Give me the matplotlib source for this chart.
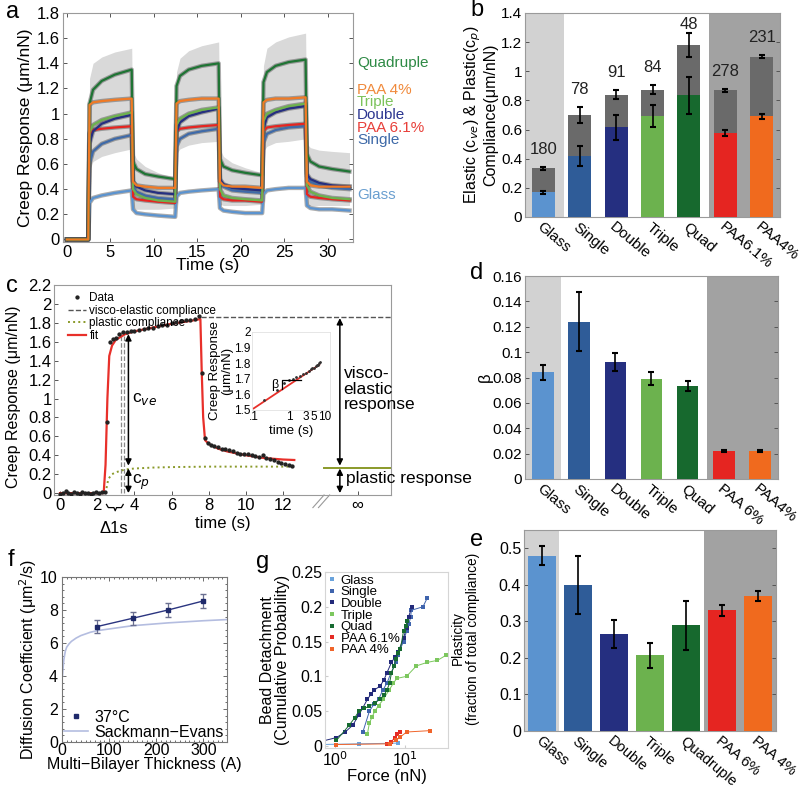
import matplotlib
matplotlib.use("Agg")
import matplotlib.pyplot as plt
import matplotlib.transforms as mtransforms
from matplotlib.ticker import FormatStrFormatter, AutoMinorLocator

plt.rcParams['font.family'] = ['Liberation Sans', 'DejaVu Sans']
plt.rcParams['mathtext.fontset'] = 'dejavusans'

# ---------------- data ----------------
colors = {
    "Glass": "#5b93cf", "Single": "#2f5c98", "Double": "#252f80",
    "Triple": "#6cb24e", "Quad": "#17692e", "PAA6": "#e52521", "PAA4": "#f06a1e",
}
bar_keys = ["Glass", "Single", "Double", "Triple", "Quad", "PAA6", "PAA4"]

# panel a: creep response, three load / unload cycles
a_time = [0, 2.45, 2.6, 3.0, 4.0, 5.5, 7.45, 7.6, 8.0, 9.0, 10.5, 12.45,
          12.6, 13.0, 14.0, 15.5, 17.45, 17.6, 18.0, 19.0, 20.5, 22.45,
          22.6, 23.0, 24.0, 25.5, 27.45, 27.6, 28.0, 29.0, 30.5, 32.5]
a_glass = [0, 0, 0.29, 0.33, 0.35, 0.37, 0.39, 0.24, 0.21, 0.20, 0.19, 0.18,
           0.34, 0.37, 0.38, 0.39, 0.40, 0.25, 0.23, 0.22, 0.21, 0.21,
           0.36, 0.39, 0.40, 0.41, 0.41, 0.27, 0.25, 0.24, 0.24, 0.23]
a_single = [0, 0, 0.60, 0.70, 0.76, 0.80, 0.83, 0.42, 0.38, 0.35, 0.33, 0.32,
            0.74, 0.80, 0.84, 0.86, 0.88, 0.46, 0.42, 0.39, 0.38, 0.37,
            0.77, 0.84, 0.87, 0.89, 0.90, 0.50, 0.46, 0.43, 0.41, 0.40]
a_paa6 = [0, 0, 0.84, 0.87, 0.88, 0.89, 0.90, 0.34, 0.32, 0.31, 0.30, 0.29,
          0.86, 0.88, 0.89, 0.90, 0.91, 0.34, 0.32, 0.31, 0.31, 0.30,
          0.86, 0.89, 0.90, 0.91, 0.92, 0.36, 0.34, 0.33, 0.32, 0.31]
a_double = [0, 0, 0.76, 0.86, 0.92, 0.96, 0.99, 0.46, 0.42, 0.39, 0.37, 0.36,
            0.85, 0.93, 0.98, 1.01, 1.04, 0.48, 0.44, 0.41, 0.40, 0.39,
            0.88, 0.97, 1.01, 1.04, 1.06, 0.52, 0.48, 0.45, 0.43, 0.42]
a_triple = [0, 0, 0.85, 0.91, 0.95, 0.98, 1.01, 0.40, 0.36, 0.33, 0.31, 0.30,
            0.91, 0.96, 1.00, 1.03, 1.05, 0.40, 0.35, 0.33, 0.32, 0.31,
            0.94, 1.00, 1.03, 1.06, 1.08, 0.43, 0.38, 0.35, 0.33, 0.32]
a_quad = [0, 0, 1.08, 1.19, 1.26, 1.31, 1.35, 0.62, 0.56, 0.52, 0.50, 0.48,
          1.22, 1.30, 1.35, 1.38, 1.40, 0.64, 0.58, 0.55, 0.53, 0.51,
          1.25, 1.33, 1.38, 1.41, 1.43, 0.68, 0.62, 0.58, 0.56, 0.54]
a_paa4 = [0, 0, 1.07, 1.09, 1.10, 1.11, 1.12, 0.46, 0.43, 0.42, 0.41, 0.41,
          1.08, 1.10, 1.11, 1.12, 1.12, 0.46, 0.43, 0.42, 0.42, 0.41,
          1.09, 1.11, 1.12, 1.12, 1.13, 0.46, 0.43, 0.42, 0.42, 0.42]
a_band_hi = [0, 0, 1.28, 1.40, 1.45, 1.49, 1.52, 0.70, 0.64, 0.58, 0.53, 0.49,
             1.33, 1.44, 1.50, 1.54, 1.57, 0.72, 0.66, 0.61, 0.57, 0.53,
             1.38, 1.52, 1.57, 1.61, 1.64, 0.76, 0.73, 0.71, 0.70, 0.69]
a_band_lo = [0, 0, 0.55, 0.62, 0.66, 0.69, 0.72, 0.25, 0.24, 0.24, 0.24, 0.25,
             0.68, 0.72, 0.75, 0.77, 0.78, 0.28, 0.27, 0.27, 0.27, 0.28,
             0.70, 0.74, 0.77, 0.78, 0.80, 0.27, 0.27, 0.27, 0.27, 0.27]

# panel b: compliance (plastic part bottom, total on top)
b_labels = ["Glass", "Single", "Double", "Triple", "Quad", "PAA6.1%", "PAA4%"]
b_plastic = [0.17, 0.42, 0.615, 0.695, 0.835, 0.575, 0.69]
b_plastic_err = [0.01, 0.07, 0.085, 0.075, 0.125, 0.02, 0.015]
b_total = [0.335, 0.70, 0.84, 0.875, 1.18, 0.87, 1.10]
b_total_err = [0.01, 0.055, 0.03, 0.03, 0.08, 0.01, 0.01]
b_counts = [180, 78, 91, 84, 48, 278, 231]

# panel c: single creep trace
c_t = [0.0, 0.15, 0.3, 0.45, 0.6, 0.75, 0.9, 1.05, 1.2, 1.35, 1.5, 1.65, 1.8,
       1.95, 2.1, 2.25, 2.4, 2.55, 2.7, 2.85, 3.0, 3.2, 3.4, 3.6, 3.8, 4.0,
       4.25, 4.5, 4.75, 5.0, 5.25, 5.5, 5.75, 6.0, 6.25, 6.5, 6.75, 7.0, 7.25,
       7.5, 7.65, 7.8, 7.95, 8.1, 8.3, 8.5, 8.7, 8.9, 9.1, 9.3, 9.5, 9.7, 9.9,
       10.1, 10.3, 10.5, 10.7, 10.9, 11.1, 11.3, 11.5, 11.7, 11.9, 12.1, 12.3,
       12.5]
c_y = [-0.01, 0.0, 0.02, 0.0, -0.01, 0.01, 0.0, -0.01, 0.01, 0.0, 0.0, -0.01,
       0.0, 0.01, 0.0, 0.01, 0.01, 0.75, 1.60, 1.63, 1.64, 1.68, 1.70, 1.70,
       1.71, 1.71, 1.72, 1.74, 1.75, 1.75, 1.77, 1.78, 1.78, 1.80, 1.81, 1.82,
       1.83, 1.83, 1.84, 1.87, 1.27, 0.58, 0.53, 0.51, 0.50, 0.49, 0.47, 0.47,
       0.46, 0.44, 0.42, 0.41, 0.41, 0.41, 0.40, 0.39, 0.38, 0.40, 0.37, 0.36,
       0.35, 0.33, 0.32, 0.31, 0.30, 0.29]
c_fit_t = [0, 2.35, 2.45, 2.55, 2.65, 2.8, 3.0, 3.5, 4, 5, 6, 7, 7.55, 7.62,
           7.7, 7.8, 8.0, 8.5, 9, 10, 11, 12, 12.6]
c_fit_y = [0, 0, 0.3, 1.0, 1.45, 1.56, 1.62, 1.68, 1.71, 1.75, 1.79, 1.82,
           1.84, 1.3, 0.8, 0.56, 0.52, 0.47, 0.44, 0.40, 0.37, 0.355, 0.35]
c_plastic_t = [2.45, 2.6, 2.8, 3.0, 3.5, 4, 5, 6, 8, 10, 12.6]
c_plastic_y = [0, 0.15, 0.2, 0.22, 0.25, 0.26, 0.27, 0.275, 0.28, 0.28, 0.28]
c_ve_level = 1.86
c_p_level = 0.27
# inset: log-time creep
ci_t = [0.1, 7.0]
ci_y = [1.51, 1.79]
ci_dot_t = [0.2, 0.45, 0.7, 1.0, 1.3, 1.6, 2.0, 2.5, 3.0, 3.5, 4.0, 4.5, 5.0,
            5.5, 6.0, 6.5, 7.0, 7.5]
ci_dot_y = [1.565, 1.63, 1.67, 1.69, 1.70, 1.71, 1.72, 1.73, 1.74, 1.75, 1.76,
            1.77, 1.77, 1.78, 1.79, 1.79, 1.80, 1.81]

# panel d: beta
d_labels = ["Glass", "Single", "Double", "Triple", "Quad", "PAA 6%", "PAA4%"]
d_vals = [0.084, 0.124, 0.092, 0.079, 0.073, 0.022, 0.022]
d_errs = [0.006, 0.023, 0.007, 0.005, 0.004, 0.001, 0.001]

# panel e: plasticity
e_labels = ["Glass", "Single", "Double", "Triple", "Quadruple", "PAA 6%", "PAA 4%"]
e_vals = [0.48, 0.40, 0.265, 0.207, 0.29, 0.33, 0.37]
e_errs = [0.027, 0.08, 0.038, 0.035, 0.067, 0.015, 0.013]

# panel f: diffusion coefficient
f_x = [75, 150, 225, 300]
f_y = [7.0, 7.5, 8.0, 8.55]
f_err = [0.4, 0.4, 0.4, 0.45]
f_se_x = [1, 2, 4, 7, 10, 15, 20, 30, 40, 60, 75, 100, 150, 225, 300, 350]
f_se_y = [4.0, 4.4, 5.0, 5.5, 5.75, 5.95, 6.1, 6.3, 6.45, 6.65, 6.75, 6.85,
          7.05, 7.22, 7.35, 7.42]

# panel g: bead detachment
g_series = [
    ("Glass", "#6aa3dc", [0.61, 2.2, 8.0], [0.002, 0.003, 0.004]),
    ("Single", "#3f64ad",
     [2.5, 3.1, 3.6, 4.2, 4.8, 5.5, 6.3, 7.4, 8.0, 8.6, 9.5, 10.5, 11.3, 12.0,
      12.3, 18.0, 20.6],
     [0.02, 0.05, 0.06, 0.067, 0.08, 0.09, 0.105, 0.12, 0.13, 0.14, 0.15,
      0.165, 0.175, 0.185, 0.195, 0.2, 0.212]),
    ("Double", "#232a7a",
     [0.61, 1.05, 1.4, 1.8, 2.2, 2.5, 2.9, 3.3, 3.6, 4.4, 5.0, 5.5, 6.4, 7.2,
      8.0, 9.5, 10.5, 11.2, 12.5],
     [0.006, 0.012, 0.02, 0.03, 0.045, 0.055, 0.067, 0.075, 0.08, 0.086,
      0.095, 0.105, 0.12, 0.128, 0.135, 0.155, 0.17, 0.185, 0.2]),
    ("Triple", "#7cc75e",
     [2.9, 3.1, 3.4, 3.7, 4.2, 4.9, 5.9, 6.8, 7.6, 10.5, 14.5, 20.6, 29.0, 38.0],
     [0.017, 0.033, 0.042, 0.05, 0.058, 0.067, 0.08, 0.09, 0.097, 0.1, 0.115,
      0.12, 0.123, 0.13]),
    ("Quad", "#176b31",
     [1.05, 1.6, 1.9, 2.2, 2.6, 3.1, 3.7, 4.4, 5.0, 5.5, 6.0, 6.4, 7.0, 7.4,
      8.0, 8.6, 9.5, 10.2, 10.8],
     [0.008, 0.03, 0.04, 0.05, 0.054, 0.057, 0.062, 0.067, 0.073, 0.08, 0.09,
      0.105, 0.115, 0.125, 0.133, 0.14, 0.165, 0.172, 0.18]),
    ("PAA 6.1%", "#e52b24", [5.5, 6.4, 7.1, 7.7, 8.6],
     [0.003, 0.006, 0.012, 0.017, 0.02]),
    ("PAA 4%", "#f0642a", [1.05, 6.0, 7.4, 8.6, 10.5, 23.0],
     [0.002, 0.003, 0.008, 0.013, 0.02, 0.022]),
]

LIGHT = "#d2d2d2"
DARK = "#a2a2a2"
SPINE = "#9a9a9a"

W, H = 800, 788


def box(l, t, r, b):
    return [l / W, 1 - b / H, (r - l) / W, (b - t) / H]


def style(ax, size=11, sides=True):
    for s in ax.spines.values():
        s.set_color(SPINE)
        s.set_linewidth(0.8)
    ax.tick_params(direction="in", length=3, width=0.7, color="#555555",
                   labelsize=size, top=sides, right=sides, pad=2)


fig = plt.figure(figsize=(8, 7.88), dpi=100)

# ---------------- a ----------------
ax = fig.add_axes(box(62.6, 13, 353, 242))
ax.fill_between(a_time, a_band_lo, a_band_hi, color="#d9d9d9", lw=0)
a_series = [("Glass", a_glass, "#5b93cf"), ("Single", a_single, "#3f6aa8"),
            ("PAA 6.1%", a_paa6, "#e52521"), ("Double", a_double, "#252f80"),
            ("Triple", a_triple, "#6cb24e"), ("Quadruple", a_quad, "#1f7434"),
            ("PAA 4%", a_paa4, "#f07a25")]
for name, vals, col in a_series:
    ax.plot(a_time, vals, color="#4a4a4a", lw=3.2, alpha=0.45)
for name, vals, col in a_series:
    ax.plot(a_time, vals, color=col, lw=1.6)
ax.set_xlim(-0.5, 32.9)
ax.set_ylim(-0.02, 1.8)
ax.set_xticks(range(0, 31, 5))
ax.set_yticks([0, 0.2, 0.4, 0.6, 0.8, 1.0, 1.2, 1.4, 1.6, 1.8])
ax.yaxis.set_major_formatter(FormatStrFormatter("%g"))
style(ax, 12)
ax.set_xlabel("Time (s)", fontsize=12.5, labelpad=-1)
ax.set_ylabel("Creep Response (μm/nN)", fontsize=12.5, labelpad=3)
trans = mtransforms.blended_transform_factory(ax.transAxes, ax.transData)
label_y = {"Quadruple": 1.40, "PAA 4%": 1.19, "Triple": 1.09,
           "Double": 0.99, "PAA 6.1%": 0.89, "Single": 0.79, "Glass": 0.355}
label_col = {"Quadruple": "#2e8a45", "PAA 4%": "#f08a3c", "Triple": "#7cc35b",
             "Double": "#2b3590", "PAA 6.1%": "#e8403a", "Single": "#3f6aa8",
             "Glass": "#6a9fd0"}
for name in label_y:
    ax.text(1.014, label_y[name], name, transform=trans, color=label_col[name],
            fontsize=11, va="center", ha="left", clip_on=False)


# ---------------- bar panels ----------------
def bar_base(ax, light_to, dark_from, size):
    ax.axvspan(-0.5, light_to, color=LIGHT, lw=0, zorder=0)
    ax.axvspan(dark_from, 6.5, color=DARK, lw=0, zorder=0)
    ax.set_xlim(-0.5, 6.5)
    style(ax, size)


def rot_labels(ax, labels, size):
    ax.set_xticks(range(len(labels)))
    ax.set_xticklabels(labels, rotation=-40, ha="left", va="top",
                       rotation_mode="anchor", fontsize=size)
    for lab in ax.get_xticklabels():
        lab.set_transform(lab.get_transform() +
                          mtransforms.ScaledTranslation(-9 / 100, -3 / 100,
                                                        fig.dpi_scale_trans))
    ax.tick_params(axis="x", length=0)


x = list(range(7))
bcol = [colors[k] for k in bar_keys]

# b
ax = fig.add_axes(box(525, 13, 780, 217))
bar_base(ax, 0.57, 4.55, 11)
ax.bar(x, b_total, width=0.63, color="#6a6a6a", zorder=2)
ax.bar(x, b_plastic, width=0.63, color=bcol, zorder=3)
ax.errorbar(x, b_total, yerr=b_total_err, fmt="none", ecolor="k",
            elinewidth=1.2, capsize=2, capthick=1.5, zorder=4)
ax.errorbar(x, b_plastic, yerr=b_plastic_err, fmt="none", ecolor="k",
            elinewidth=1.2, capsize=2, capthick=1.5, zorder=4)
for i, n in enumerate(b_counts):
    ax.text(i, min(b_total[i] + b_total_err[i] + 0.07, 1.27), str(n),
            ha="center", va="bottom", fontsize=12, color="#222222", zorder=5)
ax.set_ylim(0, 1.4)
ax.set_yticks([0, 0.2, 0.4, 0.6, 0.8, 1.0, 1.2, 1.4])
ax.yaxis.set_major_formatter(FormatStrFormatter("%g"))
rot_labels(ax, b_labels, 11)
ax.set_ylabel("Elastic (c$_{ve}$) & Plastic(c$_p$)\nCompliance(μm/nN)",
              fontsize=11.5, labelpad=2, linespacing=1.0)

# d
ax = fig.add_axes(box(525, 276, 778, 479))
bar_base(ax, 0.5, 4.54, 11)
ax.bar(x, d_vals, width=0.6, color=bcol, zorder=3)
ax.errorbar(x, d_vals, yerr=d_errs, fmt="none", ecolor="k", elinewidth=1.2,
            capsize=2, capthick=1.5, zorder=4)
ax.set_ylim(0, 0.16)
ax.set_yticks([0, 0.02, 0.04, 0.06, 0.08, 0.1, 0.12, 0.14, 0.16])
ax.yaxis.set_major_formatter(FormatStrFormatter("%g"))
rot_labels(ax, d_labels, 11)
ax.set_ylabel("β", fontsize=12, labelpad=0)

# e
ax = fig.add_axes(box(524, 530, 776, 731))
bar_base(ax, 0.47, 4.5, 11.5)
ax.bar(x, e_vals, width=0.78, color=bcol, zorder=3)
ax.errorbar(x, e_vals, yerr=e_errs, fmt="none", ecolor="k", elinewidth=1.2,
            capsize=2, capthick=1.5, zorder=4)
ax.set_ylim(0, 0.55)
ax.set_yticks([0, 0.1, 0.2, 0.3, 0.4, 0.5])
ax.yaxis.set_major_formatter(FormatStrFormatter("%g"))
rot_labels(ax, e_labels, 10.5)
ax.set_ylabel("Plasticity\n(fraction of total compliance)", fontsize=9.8,
              labelpad=4, linespacing=1.05)
ax.yaxis.set_label_coords(-0.175, 0.46)

# ---------------- c ----------------
ax = fig.add_axes(box(54.4, 285, 391, 495))
style(ax, 12, sides=False)
h_pl, = ax.plot(c_plastic_t, c_plastic_y, ls=":", color="#8a9a2a", lw=1.4,
                label="plastic compliance", zorder=2)
h_ve, = ax.plot([7.6, 17.8], [c_ve_level, c_ve_level], ls="--",
                color="#555555", lw=1.0, label="visco-elastic compliance",
                zorder=2)
h_fit, = ax.plot(c_fit_t, c_fit_y, color="#e8302a", lw=1.6, label="fit",
                 zorder=3)
h_dat, = ax.plot(c_t, c_y, "o", color="#222222", ms=2.1, label="Data",
                 zorder=4)
for tv in (3.28, 3.42):
    ax.plot([tv, tv], [0, 1.7], ls="--", color="#8a8a8a", lw=0.9, zorder=1)
ax.plot([14.2, 17.8], [c_p_level, c_p_level], color="#8a9a2a", lw=1.4)
arrow = dict(arrowstyle="<|-|>", color="black", lw=1.1, mutation_scale=9,
             shrinkA=0, shrinkB=0)
for xa, top in ((3.68, 1.68), (15.05, 1.85)):
    ax.annotate("", xy=(xa, top), xytext=(xa, c_p_level + 0.02),
                arrowprops=arrow)
    ax.annotate("", xy=(xa, c_p_level - 0.01), xytext=(xa, 0.0),
                arrowprops=arrow)
ax.text(3.85, 1.0, "c$_{ve}$", fontsize=12.5, va="center")
ax.text(3.85, 0.11, "c$_p$", fontsize=12.5, va="center")
ax.text(15.25, 1.1, "visco-\nelastic\nresponse", fontsize=12.5, va="center",
        linespacing=1.05)
ax.text(15.4, 0.15, "plastic response", fontsize=12.5, va="center",
        clip_on=False)
ax.set_xlim(-0.3, 17.8)
ax.set_ylim(-0.02, 2.2)
ax.set_yticks([0, 0.2, 0.4, 0.6, 0.8, 1.0, 1.2, 1.4, 1.6, 1.8, 2.0, 2.2])
ax.yaxis.set_major_formatter(FormatStrFormatter("%g"))
ax.set_xticks([0, 2, 4, 6, 8, 10, 12, 16])
ax.set_xticklabels(["0", "2", "4", "6", "8", "10", "12", "∞"])
ax.set_xlabel("time (s)", fontsize=12, labelpad=2)
ax.set_ylabel("Creep Response (μm/nN)", fontsize=11.5, labelpad=3)
ax.yaxis.set_label_coords(-0.1, 0.47)
bt = mtransforms.blended_transform_factory(ax.transData, ax.transAxes)
for dx in (0.0, 0.3):
    ax.plot([13.6 + dx, 14.2 + dx], [-0.06, 0.0], color="#999999", lw=0.8,
            transform=bt, clip_on=False)
ax.plot([2.5, 2.6, 2.9, 2.97, 3.04, 3.3, 3.4],
        [-0.045, -0.06, -0.06, -0.075, -0.06, -0.06, -0.045],
        color="black", lw=0.9, transform=bt, clip_on=False)
ax.text(2.9, -0.16, "Δ1s", transform=bt, fontsize=12, ha="center",
        va="center")
ax.legend([h_dat, h_ve, h_pl, h_fit],
          ["Data", "visco-elastic compliance", "plastic compliance", "fit"],
          loc="upper left", bbox_to_anchor=(0.02, 1.0), fontsize=8.5,
          frameon=False, handlelength=1.5, labelspacing=0.05,
          handletextpad=0.3, borderpad=0.1)

# inset
axi = fig.add_axes(box(252, 332, 330, 410))
axi.set_xscale("log")
axi.plot(ci_t, ci_y, color="#e8302a", lw=1.3)
axi.plot(ci_dot_t, ci_dot_y, ".", color="#333333", ms=2)
axi.plot([0.63, 0.63, 2.1], [1.636, 1.69, 1.69], color="black", lw=0.9)
axi.text(0.5, 1.66, "β", fontsize=9, ha="right", va="center")
axi.set_xlim(0.09, 14)
axi.set_ylim(1.5, 2.0)
axi.set_xticks([0.1, 1, 3, 5, 10])
axi.set_xticklabels([".1", "1", "3", "5", "10"])
axi.set_xticks([], minor=True)
axi.set_yticks([1.5, 1.6, 1.7, 1.8, 1.9, 2.0])
axi.set_yticklabels(["1.5", "1.6", "1.7", "1.8", "1.9", "2"])
axi.tick_params(length=0, labelsize=8.5, pad=1)
for s in axi.spines.values():
    s.set_color("#e2e2e2")
    s.set_linewidth(0.6)
axi.patch.set_alpha(0)
axi.set_xlabel("time (s)", fontsize=9.5, labelpad=1)
axi.set_ylabel("Creep Response\n(μm/nN)", fontsize=9.5, labelpad=1,
               linespacing=1.0)

# ---------------- f ----------------
ax = fig.add_axes(box(62, 577, 227, 742))
ax.plot(f_se_x, f_se_y, color="#b4bde0", lw=1.2, label="Sackmann−Evans",
        zorder=2)
ax.errorbar(f_x, f_y, yerr=f_err, fmt="-", color="#2b3580", lw=1.0,
            ecolor="#6a6f90", elinewidth=0.9, capsize=2, zorder=3)
ax.plot(f_x, f_y, "s", color="#1f2a6b", ms=3.5, label="37°C", zorder=4)
ax.set_xlim(0, 350)
ax.set_ylim(0, 10)
ax.set_xticks([0, 100, 200, 300])
ax.set_yticks([0, 2, 4, 6, 8, 10])
ax.xaxis.set_minor_locator(AutoMinorLocator(10))
ax.yaxis.set_minor_locator(AutoMinorLocator(5))
for s in ax.spines.values():
    s.set_color("#777777")
    s.set_linewidth(0.8)
ax.tick_params(which="both", direction="in", top=True, right=True,
               labelsize=11.5, color="#555555", width=0.6, pad=1)
ax.tick_params(axis="y", pad=3)
ax.tick_params(which="major", length=3)
ax.tick_params(which="minor", length=1.5)
h, l = ax.get_legend_handles_labels()
ax.legend(h[::-1], l[::-1], loc="lower left", fontsize=11.5, frameon=False,
          handlelength=1.5, labelspacing=0.0, handletextpad=0.4,
          borderpad=0.05, borderaxespad=0.1)
ax.set_xlabel("Multi−Bilayer Thickness (A)", fontsize=11.5, labelpad=-1)
ax.set_ylabel("Diffusion Coefficient (μm$^2$/s)", fontsize=11.5, labelpad=1)

# ---------------- g ----------------
ax = fig.add_axes(box(325, 572, 448, 748))
for name, col, fx, fy in g_series:
    ax.plot(fx, fy, "-s", color=col, ms=3, lw=0.7, label=name,
            markeredgewidth=0)
ax.set_xscale("log")
ax.set_xlim(0.72, 41)
ax.set_ylim(-0.003, 0.25)
ax.set_yticks([0, 0.05, 0.1, 0.15, 0.2, 0.25])
ax.yaxis.set_major_formatter(FormatStrFormatter("%g"))
ax.set_xticks([1, 10])
ax.set_xticklabels(["10$^0$", "10$^1$"])
ax.set_xticks([], minor=True)
for s in ax.spines.values():
    s.set_color("#d5d5d5")
    s.set_linewidth(0.8)
ax.tick_params(direction="in", length=2, labelsize=11.5, color="#cccccc",
               pad=2)
leg = ax.legend(loc="upper left", fontsize=9.5, frameon=False,
                handlelength=0.6, labelspacing=-0.05, handletextpad=0.4,
                borderpad=0.1, borderaxespad=0.1)
for hl in leg.legend_handles:
    hl.set_linestyle("none")
ax.set_xlabel("Force (nN)", fontsize=12, labelpad=0)
ax.set_ylabel("Bead Detachment\n(Cumulative Probability)", fontsize=11.5,
              labelpad=1, linespacing=1.0)

# ---------------- panel letters ----------------
for letter, px, py in (("a", 6, 12), ("b", 470, 10), ("c", 6, 286),
                       ("d", 470, 273), ("e", 470, 540), ("f", 8, 560),
                       ("g", 256, 562)):
    fig.text(px / W, 1 - py / H, letter, fontsize=17, ha="left", va="center")

fig.savefig("out.png", dpi=100)
